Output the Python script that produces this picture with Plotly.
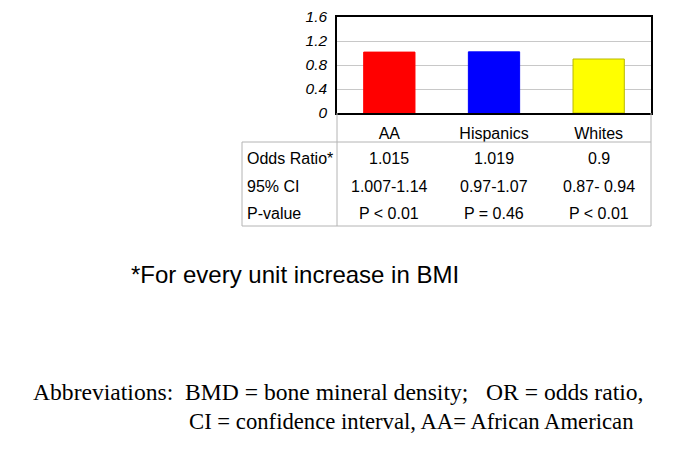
import plotly.graph_objects as go

groups = ['AA', 'Hispanics', 'Whites']
odds_ratio = [1.015, 1.019, 0.9]
odds_text = ['1.015', '1.019', '0.9']
ci_text = ['1.007-1.14', '0.97-1.07', '0.87- 0.94']
p_text = ['P < 0.01', 'P = 0.46', 'P < 0.01']
bar_colors = ['#ff0000', '#0000ff', '#ffff00']
edge_colors = ['#ff0000', '#0000ff', '#b8b800']
row_labels = ['Odds Ratio*', '95% CI', 'P-value']
y_ticks = [0, 0.4, 0.8, 1.2, 1.6]

W, H = 685, 449
OFF = 8  # page body margin
sans = 'Liberation Sans, Arial, sans-serif'
serif = 'Liberation Serif, Times New Roman, serif'


def py(pix):
    # pixel row from top of window -> paper y
    return 1 - (pix - OFF) / H


def px(pix):
    return (pix - OFF) / W


fig = go.Figure()
fig.add_trace(go.Bar(
    x=groups, y=odds_ratio, width=0.49,
    marker=dict(color=bar_colors, line=dict(color=edge_colors, width=1)),
    showlegend=False, hoverinfo='skip'))

fig.update_layout(
    width=W, height=H,
    margin=dict(l=0, r=0, t=0, b=0, autoexpand=False),
    paper_bgcolor='white', plot_bgcolor='white',
    bargap=0.51,
    xaxis=dict(domain=[px(337), px(651)], showline=True, linecolor='black', linewidth=1.5,
               mirror=True, showgrid=False, ticks='', ticklabelstandoff=5, automargin=False,
               tickfont=dict(family=sans, size=16, color='black')),
    yaxis=dict(domain=[py(113), py(17)], range=[0, 1.6], tickvals=y_ticks,
               ticktext=['0', '0.4', '0.8', '1.2', '1.6'],
               showline=True, linecolor='black', linewidth=1.5, mirror=True,
               showgrid=True, gridcolor='#c8c8c8', gridwidth=1, zeroline=False,
               ticks='', ticklabelstandoff=5, automargin=False,
               tickfont=dict(family=sans, size=15.5, color='black', style='italic')),
)

# table lines
line_col = '#b4b4b4'
shapes = [
    dict(x0=px(242), x1=px(651), y0=py(142), y1=py(142)),
    dict(x0=px(242), x1=px(651), y0=py(226), y1=py(226)),
    dict(x0=px(242), x1=px(242), y0=py(142), y1=py(226)),
    dict(x0=px(337), x1=px(337), y0=py(113), y1=py(226)),
    dict(x0=px(651), x1=px(651), y0=py(113), y1=py(226)),
]
for s in shapes:
    fig.add_shape(type='line', xref='paper', yref='paper', line=dict(color=line_col, width=1), **s)

row_y = [158, 186, 213]
for label, yy in zip(row_labels, row_y):
    fig.add_annotation(x=px(245), y=py(yy), xref='paper', yref='paper', text=label,
                       showarrow=False, xanchor='left', yanchor='middle',
                       font=dict(family=sans, size=16, color='black'))

for vals, yy in zip([odds_text, ci_text, p_text], row_y):
    for g, v in zip(groups, vals):
        fig.add_annotation(x=g, y=py(yy), xref='x', yref='paper', text=v,
                           showarrow=False, xanchor='center', yanchor='middle',
                           font=dict(family=sans, size=16, color='black'))

fig.add_annotation(x=px(129), y=py(274), xref='paper', yref='paper',
                   text='*For every unit increase in BMI', showarrow=False,
                   xanchor='left', yanchor='middle',
                   font=dict(family=sans, size=24, color='black'))

fig.add_annotation(x=px(31), y=py(392), xref='paper', yref='paper',
                   text='Abbreviations:  BMD = bone mineral density;   OR = odds ratio,',
                   showarrow=False, xanchor='left', yanchor='middle',
                   font=dict(family=serif, size=23.6, color='black'))
fig.add_annotation(x=px(187), y=py(421), xref='paper', yref='paper',
                   text='CI = confidence interval, AA= African American',
                   showarrow=False, xanchor='left', yanchor='middle',
                   font=dict(family=serif, size=22.7, color='black'))

fig.write_html('out.html')
